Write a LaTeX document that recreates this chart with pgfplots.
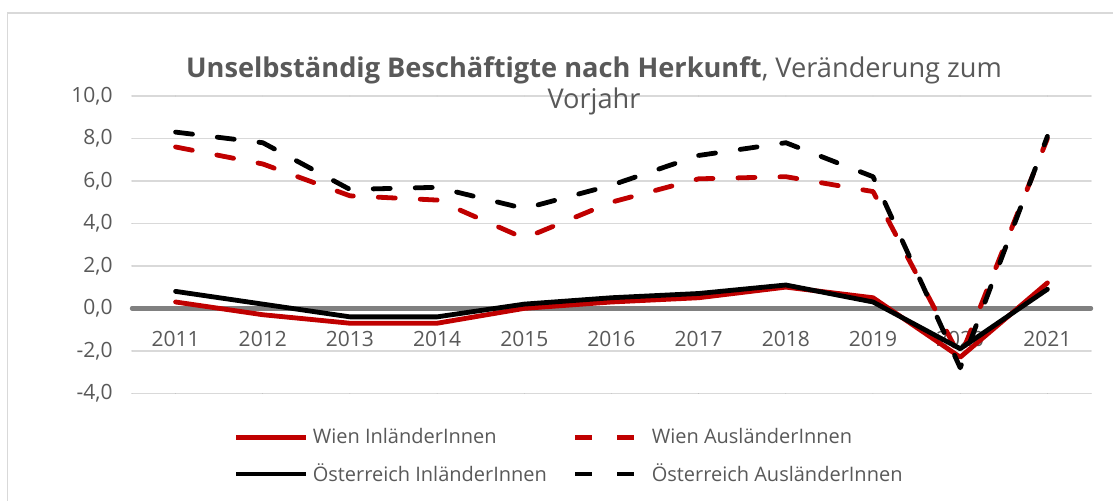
\documentclass[border=0pt]{standalone}
\usepackage{pgfplots}
\pgfplotsset{compat=1.18}
\usepackage{fontspec}
\setmainfont{Open Sans}
\definecolor{wred}{HTML}{C00000}
\definecolor{txtgray}{HTML}{595959}
\definecolor{gridgray}{HTML}{D9D9D9}
\definecolor{zerogray}{HTML}{808080}
\begin{document}
\begin{tikzpicture}
\begin{axis}[
  at={(0,0)}, anchor=south west,
  scale only axis,
  width=479.5pt, height=148.65pt,
  xmin=2010.5, xmax=2021.5,
  ymin=-4, ymax=10,
  ytick={-4,-2,0,2,4,6,8,10},
  xtick={2011,...,2021},
  axis line style={draw=none},
  major tick length=0pt,
  ymajorgrids,
  grid style={gridgray, line width=0.75pt},
  extra y ticks={0},
  extra y tick labels={},
  extra y tick style={grid=major, major grid style={zerogray, line width=2.2pt}},
  /pgf/number format/assume math mode=true,
  tick label style={font=\fontsize{10.5}{12.5}\selectfont, text=txtgray},
  yticklabel={\pgfmathprintnumber[fixed,fixed zerofill,precision=1,use comma]{\tick}},
  yticklabel style={anchor=east, inner sep=0pt, xshift=-9.5pt},
  xticklabel={\pgfmathprintnumber[1000 sep={},fixed,precision=0]{\tick}},
  xticklabel style={anchor=center, inner sep=0pt, yshift=27.15pt},
  clip=false,
  line join=round, line cap=round,
  legend columns=2,
  legend style={at={(0.457,-0.09)}, anchor=north, draw=none, fill=none,
    font=\fontsize{10}{12}\selectfont, text=txtgray,
    row sep=4.5pt,
    /tikz/every even column/.append style={column sep=11pt}},
  legend cell align=left,
  legend image code/.code={\draw[#1] (0pt,0pt) -- (35pt,0pt);},
]
\addplot[wred, line width=2.4pt] coordinates {
 (2011,0.3) (2012,-0.3) (2013,-0.7) (2014,-0.7) (2015,0.0) (2016,0.3)
 (2017,0.5) (2018,1.0) (2019,0.5) (2020,-2.3) (2021,1.2)};
\addlegendentry{Wien InländerInnen}
\addplot[wred, line width=2.4pt, dash pattern=on 8.5pt off 12.5pt] coordinates {
 (2011,7.6) (2012,6.8) (2013,5.3) (2014,5.1) (2015,3.3) (2016,5.0)
 (2017,6.1) (2018,6.2) (2019,5.5) (2020,-2.3) (2021,8.0)};
\addlegendentry{Wien AusländerInnen}
\addplot[black, line width=2.4pt] coordinates {
 (2011,0.8) (2012,0.2) (2013,-0.4) (2014,-0.4) (2015,0.2) (2016,0.5)
 (2017,0.7) (2018,1.1) (2019,0.3) (2020,-1.9) (2021,0.9)};
\addlegendentry{Österreich InländerInnen}
\addplot[black, line width=2.4pt, dash pattern=on 8.5pt off 12.5pt] coordinates {
 (2011,8.3) (2012,7.8) (2013,5.6) (2014,5.7) (2015,4.7) (2016,5.8)
 (2017,7.2) (2018,7.8) (2019,6.2) (2020,-2.8) (2021,8.1)};
\addlegendentry{Österreich AusländerInnen}
\end{axis}
\node[text=txtgray, align=center, font=\fontsize{13.6}{15.5}\selectfont] at (231pt,153.9pt)
  {{\bfseries Unselbständig Beschäftigte nach Herkunft}, Veränderung zum\\Vorjahr};
\draw[gridgray, line width=0.75pt] (-62.25pt,-60pt) -- (-62.25pt,190.15pt) -- (500pt,190.15pt);
\pgfresetboundingbox
\useasboundingbox (-66pt,-53.35pt) rectangle (490.5pt,196.65pt);
\end{tikzpicture}
\end{document}
